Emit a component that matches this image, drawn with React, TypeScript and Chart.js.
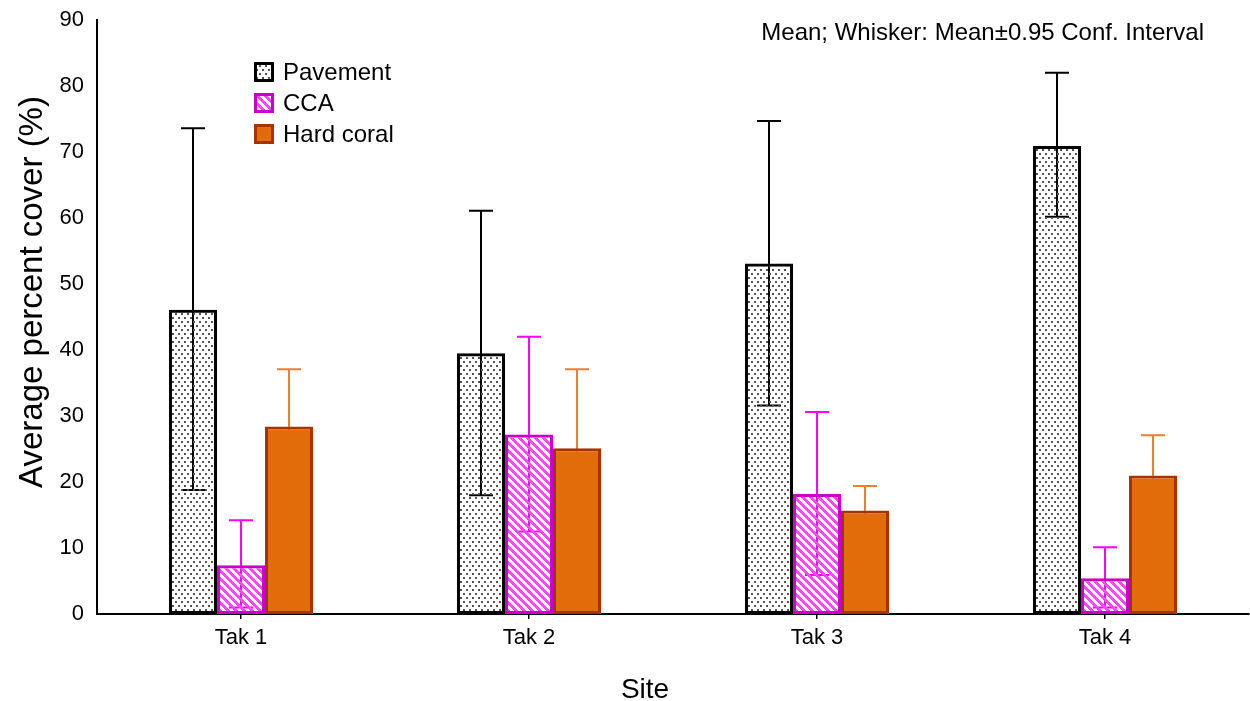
import React, { useEffect, useRef } from "react";
import { Chart, registerables } from "chart.js";

Chart.register(...registerables);

const sites = ["Tak 1", "Tak 2", "Tak 3", "Tak 4"];
const seriesNames = ["Pavement", "CCA", "Hard coral"];

const pavementMean = [46.1, 39.5, 53.1, 70.9];
const pavementLow = [18.8, 18.0, 31.6, 60.2];
const pavementHigh = [73.6, 61.1, 74.7, 82.0];

const ccaMean = [7.4, 27.2, 18.2, 5.4];
const ccaLow = [1.0, 12.5, 5.9, 1.0];
const ccaHigh = [14.2, 42.0, 30.6, 10.1];

const coralMean = [28.4, 25.1, 15.7, 21.0];
const coralLow = [19.7, 13.1, 12.0, 14.9];
const coralHigh = [37.1, 37.1, 19.4, 27.1];

const yMin = 0;
const yMax = 90;
const yStep = 10;

const yTitle = "Average percent cover (%)";
const xTitle = "Site";
const noteText = "Mean; Whisker: Mean\u00b10.95 Conf. Interval";

const FONT = "'Liberation Sans', Arial, sans-serif";

const borderColors = ["#000000", "#C800C8", "#A83200"];
const whiskerColors = ["#000000", "#FF00FF", "#F07F2A"];
const coralFill = "#E36C0A";

function makePavementPattern(ctx: CanvasRenderingContext2D) {
  const c = document.createElement("canvas");
  c.width = 6;
  c.height = 8;
  const g = c.getContext("2d")!;
  g.clearRect(0, 0, 6, 8);
  g.fillStyle = "#555555";
  g.fillRect(1, 1, 2, 2);
  g.fillRect(4, 5, 2, 2);
  return ctx.createPattern(c, "repeat")!;
}

function makeCcaPattern(ctx: CanvasRenderingContext2D) {
  const n = 8;
  const c = document.createElement("canvas");
  c.width = n;
  c.height = n;
  const g = c.getContext("2d")!;
  const img = g.createImageData(n, n);
  for (let y = 0; y < n; y++) {
    for (let x = 0; x < n; x++) {
      const k = (((x - y) % n) + n) % n;
      const idx = (y * n + x) * 4;
      if (k < 4) {
        img.data[idx] = 255;
        img.data[idx + 1] = 70;
        img.data[idx + 2] = 255;
        img.data[idx + 3] = 255;
      } else {
        img.data[idx + 3] = 0;
      }
    }
  }
  g.putImageData(img, 0, 0);
  return ctx.createPattern(c, "repeat")!;
}

export default function App() {
  const ref = useRef<HTMLCanvasElement | null>(null);

  useEffect(() => {
    const canvas = ref.current!;
    const ctx = canvas.getContext("2d")!;
    const pavePat = makePavementPattern(ctx);
    const ccaPat = makeCcaPattern(ctx);
    const fills: any[] = [pavePat, ccaPat, coralFill];
    const lows = [pavementLow, ccaLow, coralLow];
    const highs = [pavementHigh, ccaHigh, coralHigh];

    const plugin = {
      id: "customDraw",
      beforeDatasetsDraw(chart: any) {
        const c = chart.ctx;
        const ys = chart.scales.y;
        chart.data.datasets.forEach((_ds: any, i: number) => {
          const meta = chart.getDatasetMeta(i);
          meta.data.forEach((bar: any, j: number) => {
            const x = Math.round(bar.x);
            const yl = ys.getPixelForValue(lows[i][j]);
            const yh = ys.getPixelForValue(highs[i][j]);
            c.save();
            c.strokeStyle = whiskerColors[i];
            c.lineWidth = 2;
            c.beginPath();
            c.moveTo(x, yl);
            c.lineTo(x, yh);
            c.moveTo(x - 12, yh);
            c.lineTo(x + 12, yh);
            c.moveTo(x - 12, yl);
            c.lineTo(x + 12, yl);
            c.stroke();
            c.restore();
          });
        });
      },
      afterDraw(chart: any) {
        const c = chart.ctx;
        c.save();
        // legend
        const lx = 254;
        const rowY = [72, 103, 134];
        seriesNames.forEach((name, i) => {
          const cy = rowY[i];
          c.fillStyle = "#ffffff";
          c.fillRect(lx, cy - 10, 20, 20);
          c.fillStyle = fills[i];
          c.fillRect(lx, cy - 10, 20, 20);
          c.strokeStyle = borderColors[i];
          c.lineWidth = 3;
          c.strokeRect(lx + 1.5, cy - 8.5, 17, 17);
          c.fillStyle = "#000000";
          c.font = `24px ${FONT}`;
          c.textAlign = "left";
          c.textBaseline = "middle";
          c.fillText(name, 283, cy + 1);
        });
        // note
        c.font = `24px ${FONT}`;
        c.textAlign = "right";
        c.textBaseline = "alphabetic";
        c.fillStyle = "#000";
        c.fillText(noteText, 1204, 40);
        // x title
        c.font = `28px ${FONT}`;
        c.textAlign = "center";
        c.fillText(xTitle, 645, 698);
        // y title
        c.translate(42, 292);
        c.rotate(-Math.PI / 2);
        c.font = `33px ${FONT}`;
        c.textAlign = "center";
        c.textBaseline = "alphabetic";
        c.fillText(yTitle, 0, 0);
        c.restore();
      },
    };

    const chart = new Chart(canvas, {
      type: "bar",
      data: {
        labels: sites,
        datasets: [
          { label: seriesNames[0], data: pavementMean, backgroundColor: pavePat as any, borderColor: borderColors[0], borderWidth: 3, borderSkipped: false },
          { label: seriesNames[1], data: ccaMean, backgroundColor: ccaPat as any, borderColor: borderColors[1], borderWidth: 3, borderSkipped: false },
          { label: seriesNames[2], data: coralMean, backgroundColor: coralFill, borderColor: borderColors[2], borderWidth: 3, borderSkipped: false },
        ],
      },
      options: {
        responsive: false,
        animation: false,
        devicePixelRatio: 1,
        layout: { padding: { top: 20, right: 1, left: 0, bottom: 0 } },
        plugins: { legend: { display: false }, tooltip: { enabled: false }, title: { display: false } },
        datasets: { bar: { categoryPercentage: 0.5, barPercentage: 1.0 } },
        scales: {
          x: {
            grid: { display: true, drawOnChartArea: false, drawTicks: true, tickLength: 5, offset: false, color: "#000", lineWidth: 1.5 },
            border: { display: true, color: "#000", width: 2 },
            ticks: { color: "#000", font: { family: FONT, size: 22 }, padding: 6 },
            afterFit: (s: any) => { s.height = 87; },
          },
          y: {
            min: yMin,
            max: yMax,
            grid: { display: false, drawTicks: false },
            border: { display: true, color: "#000", width: 2 },
            ticks: { stepSize: yStep, color: "#000", font: { family: FONT, size: 22, lineHeight: 1 }, padding: 13 },
            afterFit: (s: any) => { s.width = 97; s.paddingTop = 0; s.paddingBottom = 0; },
          },
        },
      },
      plugins: [plugin],
    });
    return () => chart.destroy();
  }, []);

  return (
    <div style={{ position: "absolute", left: 0, top: 0, width: 1250, height: 701, background: "#fff" }}>
      <canvas ref={ref} width={1250} height={701} style={{ display: "block" }} />
    </div>
  );
}
